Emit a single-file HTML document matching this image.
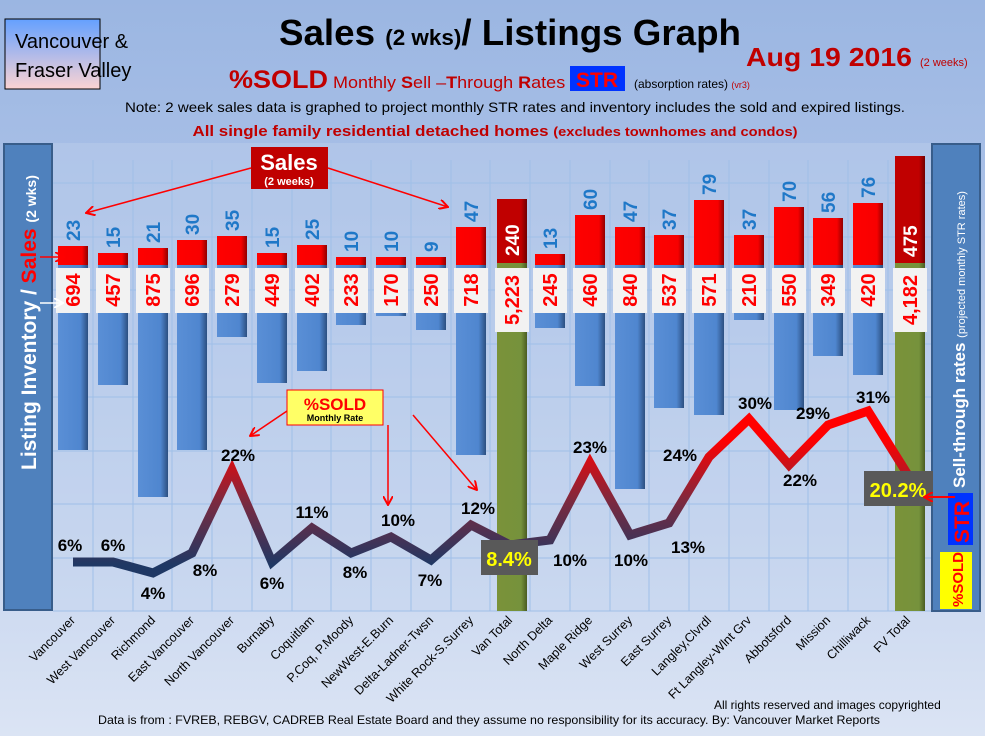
<!DOCTYPE html>
<html><head><meta charset="utf-8"><style>
html,body{margin:0;padding:0;background:#fff;}
svg{display:block;font-family:"Liberation Sans",sans-serif;}
</style></head><body>
<svg width="985" height="736" viewBox="0 0 985 736" xmlns="http://www.w3.org/2000/svg">
<defs>
<linearGradient id="bg" x1="0" y1="0" x2="0" y2="1">
<stop offset="0" stop-color="#9bb6e2"/><stop offset="0.45" stop-color="#b3c7ea"/><stop offset="1" stop-color="#dbe4f4"/></linearGradient>
<linearGradient id="lg" x1="0" y1="0" x2="0" y2="1">
<stop offset="0" stop-color="#64a0ff"/><stop offset="1" stop-color="#fbd3d3"/></linearGradient>
<linearGradient id="blue" x1="0" y1="0" x2="1" y2="0">
<stop offset="0" stop-color="#5a8fd6"/><stop offset="0.75" stop-color="#4f86cf"/><stop offset="1" stop-color="#2c4f80"/></linearGradient>
<linearGradient id="red" x1="0" y1="0" x2="1" y2="0">
<stop offset="0" stop-color="#ff0000"/><stop offset="0.8" stop-color="#f80000"/><stop offset="1" stop-color="#900000"/></linearGradient>
<linearGradient id="dred" x1="0" y1="0" x2="1" y2="0">
<stop offset="0" stop-color="#c00000"/><stop offset="0.8" stop-color="#c00000"/><stop offset="1" stop-color="#700000"/></linearGradient>
<linearGradient id="grn" x1="0" y1="0" x2="1" y2="0">
<stop offset="0" stop-color="#7a9239"/><stop offset="0.8" stop-color="#76923c"/><stop offset="1" stop-color="#4a5c22"/></linearGradient>
<linearGradient id="ln" gradientUnits="userSpaceOnUse" x1="0" y1="440" x2="0" y2="565">
<stop offset="0" stop-color="#ff0000"/><stop offset="0.5" stop-color="#7a2a40"/><stop offset="1" stop-color="#1f3864"/></linearGradient>
<marker id="ar" markerWidth="10" markerHeight="10" refX="9" refY="5" orient="auto" markerUnits="userSpaceOnUse"><path d="M0,0 L9,5 L0,10" fill="none" stroke="#ff0000" stroke-width="2"/></marker>
<marker id="arw" markerWidth="10" markerHeight="10" refX="9" refY="5" orient="auto" markerUnits="userSpaceOnUse"><path d="M0,0 L9,5 L0,10" fill="none" stroke="#fff" stroke-width="2"/></marker>
</defs>
<rect width="985" height="736" fill="url(#bg)"/>
<rect x="53" y="143" width="880" height="468" fill="#c4d3ee" opacity="0.35"/>
<g stroke="#9fbfe8" stroke-width="1">
<line x1="53" y1="183" x2="933" y2="183"/><line x1="53" y1="237" x2="933" y2="237"/><line x1="53" y1="290" x2="933" y2="290"/><line x1="53" y1="344" x2="933" y2="344"/><line x1="53" y1="397" x2="933" y2="397"/><line x1="53" y1="451" x2="933" y2="451"/><line x1="53" y1="504" x2="933" y2="504"/><line x1="53" y1="558" x2="933" y2="558"/><line x1="53" y1="611" x2="933" y2="611"/>
<line x1="93" y1="160" x2="93" y2="611"/><line x1="133" y1="160" x2="133" y2="611"/><line x1="172" y1="160" x2="172" y2="611"/><line x1="212" y1="160" x2="212" y2="611"/><line x1="252" y1="160" x2="252" y2="611"/><line x1="292" y1="160" x2="292" y2="611"/><line x1="331" y1="160" x2="331" y2="611"/><line x1="371" y1="160" x2="371" y2="611"/><line x1="411" y1="160" x2="411" y2="611"/><line x1="451" y1="160" x2="451" y2="611"/><line x1="490" y1="160" x2="490" y2="611"/><line x1="530" y1="160" x2="530" y2="611"/><line x1="570" y1="160" x2="570" y2="611"/><line x1="610" y1="160" x2="610" y2="611"/><line x1="649" y1="160" x2="649" y2="611"/><line x1="689" y1="160" x2="689" y2="611"/><line x1="729" y1="160" x2="729" y2="611"/><line x1="769" y1="160" x2="769" y2="611"/><line x1="808" y1="160" x2="808" y2="611"/><line x1="848" y1="160" x2="848" y2="611"/><line x1="888" y1="160" x2="888" y2="611"/>
</g>
<rect x="5" y="19" width="95" height="70" fill="url(#lg)" stroke="#000" stroke-width="1"/>
<text x="15" y="48" font-size="20" fill="#000">Vancouver &amp;</text>
<text x="15" y="77" font-size="20" fill="#000">Fraser Valley</text>
<text x="510" y="45" text-anchor="middle" font-size="36" font-weight="bold" fill="#000" textLength="462" lengthAdjust="spacingAndGlyphs">Sales <tspan font-size="22">(2 wks)</tspan>/ Listings Graph</text>
<text x="746" y="66" font-size="26" font-weight="bold" fill="#c00000" textLength="166" lengthAdjust="spacingAndGlyphs">Aug 19 2016</text>
<text x="920" y="66" font-size="11" fill="#c00000">(2 weeks)</text>
<g transform="translate(229,88) scale(1.08,1)"><text x="0" y="0" font-size="25" font-weight="bold" fill="#c00000">%SOLD</text></g>
<g transform="translate(333,88) scale(1.06,1)"><text x="0" y="0" font-size="17" fill="#c00000">Monthly <tspan font-weight="bold">S</tspan>ell –<tspan font-weight="bold">T</tspan>hrough <tspan font-weight="bold">R</tspan>ates</text></g>
<rect x="570" y="66" width="55" height="25" fill="#0033ff"/>
<text x="597" y="87" text-anchor="middle" font-size="21" font-weight="bold" fill="#ff0000">STR</text>
<text x="634" y="88" font-size="12" fill="#000">(absorption rates) <tspan fill="#c00000" font-size="9">(vr3)</tspan></text>
<text x="515" y="112" text-anchor="middle" font-size="14" fill="#000" textLength="780" lengthAdjust="spacingAndGlyphs">Note: 2 week sales data is graphed to project monthly STR rates and inventory includes the sold and expired listings.</text>
<text x="495" y="136" text-anchor="middle" font-size="15" font-weight="bold" fill="#c00000" textLength="605" lengthAdjust="spacingAndGlyphs">All single family residential detached homes <tspan font-size="13">(excludes townhomes and condos)</tspan></text>
<rect x="4" y="144" width="48" height="466" fill="#4f81bd" stroke="#385d8a" stroke-width="2"/>
<text transform="translate(36,470) rotate(-90)" font-size="21" font-weight="bold" fill="#fff">Listing Inventory / <tspan fill="#ff0000">Sales</tspan> <tspan font-size="14">(2  wks)</tspan></text>
<rect x="932" y="144" width="48" height="467" fill="#4f81bd" stroke="#385d8a" stroke-width="2"/>
<text transform="translate(965,488) rotate(-90)" font-size="17" font-weight="bold" fill="#fff">Sell-through rates <tspan font-size="11" font-weight="normal">(projected monthly STR rates)</tspan></text>
<rect x="948" y="493" width="25" height="52" fill="#0033ff"/>
<text transform="translate(969,543) rotate(-90)" font-size="21" font-weight="bold" fill="#ff0000">STR</text>
<rect x="940" y="552" width="32" height="57" fill="#ffff00"/>
<text transform="translate(963,607) rotate(-90)" font-size="15" font-weight="bold" fill="#ff0000">%SOLD</text>
<g>
<rect x="58" y="264" width="30" height="186" fill="url(#blue)"/><rect x="58" y="246" width="30" height="19" fill="url(#red)"/>
<rect x="98" y="264" width="30" height="121" fill="url(#blue)"/><rect x="98" y="253" width="30" height="12" fill="url(#red)"/>
<rect x="138" y="264" width="30" height="233" fill="url(#blue)"/><rect x="138" y="248" width="30" height="17" fill="url(#red)"/>
<rect x="177" y="264" width="30" height="186" fill="url(#blue)"/><rect x="177" y="240" width="30" height="25" fill="url(#red)"/>
<rect x="217" y="264" width="30" height="73" fill="url(#blue)"/><rect x="217" y="236" width="30" height="29" fill="url(#red)"/>
<rect x="257" y="264" width="30" height="119" fill="url(#blue)"/><rect x="257" y="253" width="30" height="12" fill="url(#red)"/>
<rect x="297" y="264" width="30" height="107" fill="url(#blue)"/><rect x="297" y="245" width="30" height="20" fill="url(#red)"/>
<rect x="336" y="264" width="30" height="61" fill="url(#blue)"/><rect x="336" y="257" width="30" height="8" fill="url(#red)"/>
<rect x="376" y="264" width="30" height="52" fill="url(#blue)"/><rect x="376" y="257" width="30" height="8" fill="url(#red)"/>
<rect x="416" y="264" width="30" height="66" fill="url(#blue)"/><rect x="416" y="257" width="30" height="8" fill="url(#red)"/>
<rect x="456" y="264" width="30" height="191" fill="url(#blue)"/><rect x="456" y="227" width="30" height="38" fill="url(#red)"/>
<rect x="497" y="262" width="30" height="349" fill="url(#grn)"/><rect x="497" y="199" width="30" height="64" fill="url(#dred)"/>
<rect x="535" y="264" width="30" height="64" fill="url(#blue)"/><rect x="535" y="254" width="30" height="11" fill="url(#red)"/>
<rect x="575" y="264" width="30" height="122" fill="url(#blue)"/><rect x="575" y="215" width="30" height="50" fill="url(#red)"/>
<rect x="615" y="264" width="30" height="225" fill="url(#blue)"/><rect x="615" y="227" width="30" height="38" fill="url(#red)"/>
<rect x="654" y="264" width="30" height="144" fill="url(#blue)"/><rect x="654" y="235" width="30" height="30" fill="url(#red)"/>
<rect x="694" y="264" width="30" height="151" fill="url(#blue)"/><rect x="694" y="200" width="30" height="65" fill="url(#red)"/>
<rect x="734" y="264" width="30" height="56" fill="url(#blue)"/><rect x="734" y="235" width="30" height="30" fill="url(#red)"/>
<rect x="774" y="264" width="30" height="146" fill="url(#blue)"/><rect x="774" y="207" width="30" height="58" fill="url(#red)"/>
<rect x="813" y="264" width="30" height="92" fill="url(#blue)"/><rect x="813" y="218" width="30" height="47" fill="url(#red)"/>
<rect x="853" y="264" width="30" height="111" fill="url(#blue)"/><rect x="853" y="203" width="30" height="62" fill="url(#red)"/>
<rect x="895" y="262" width="30" height="349" fill="url(#grn)"/><rect x="895" y="156" width="30" height="107" fill="url(#dred)"/>
</g>
<g font-size="19" font-weight="bold" fill="#1f78c8">
<text transform="translate(80,241) rotate(-90)">23</text>
<text transform="translate(120,248) rotate(-90)">15</text>
<text transform="translate(160,243) rotate(-90)">21</text>
<text transform="translate(199,235) rotate(-90)">30</text>
<text transform="translate(239,231) rotate(-90)">35</text>
<text transform="translate(279,248) rotate(-90)">15</text>
<text transform="translate(319,240) rotate(-90)">25</text>
<text transform="translate(358,252) rotate(-90)">10</text>
<text transform="translate(398,252) rotate(-90)">10</text>
<text transform="translate(438,252) rotate(-90)">9</text>
<text transform="translate(478,222) rotate(-90)">47</text>
<text transform="translate(557,249) rotate(-90)">13</text>
<text transform="translate(597,210) rotate(-90)">60</text>
<text transform="translate(637,222) rotate(-90)">47</text>
<text transform="translate(676,230) rotate(-90)">37</text>
<text transform="translate(716,195) rotate(-90)">79</text>
<text transform="translate(756,230) rotate(-90)">37</text>
<text transform="translate(796,202) rotate(-90)">70</text>
<text transform="translate(835,213) rotate(-90)">56</text>
<text transform="translate(875,198) rotate(-90)">76</text>
</g>
<g font-size="19" font-weight="bold" fill="#fff">
<text transform="translate(519,256) rotate(-90)">240</text>
<text transform="translate(917,257) rotate(-90)">475</text>
</g>
<g fill="#f2f2f2">
<rect x="56" y="268" width="34" height="45"/><rect x="96" y="268" width="34" height="45"/><rect x="136" y="268" width="34" height="45"/><rect x="175" y="268" width="34" height="45"/><rect x="215" y="268" width="34" height="45"/><rect x="255" y="268" width="34" height="45"/><rect x="295" y="268" width="34" height="45"/><rect x="334" y="268" width="34" height="45"/><rect x="374" y="268" width="34" height="45"/><rect x="414" y="268" width="34" height="45"/><rect x="454" y="268" width="34" height="45"/>
<rect x="495" y="268" width="34" height="64"/>
<rect x="533" y="268" width="34" height="45"/><rect x="573" y="268" width="34" height="45"/><rect x="613" y="268" width="34" height="45"/><rect x="652" y="268" width="34" height="45"/><rect x="692" y="268" width="34" height="45"/><rect x="732" y="268" width="34" height="45"/><rect x="772" y="268" width="34" height="45"/><rect x="811" y="268" width="34" height="45"/><rect x="851" y="268" width="34" height="45"/>
<rect x="893" y="268" width="34" height="64"/>
</g>
<g font-size="20" font-weight="bold" fill="#ff0000" text-anchor="middle">
<text transform="translate(80,290) rotate(-90)">694</text>
<text transform="translate(120,290) rotate(-90)">457</text>
<text transform="translate(160,290) rotate(-90)">875</text>
<text transform="translate(199,290) rotate(-90)">696</text>
<text transform="translate(239,290) rotate(-90)">279</text>
<text transform="translate(279,290) rotate(-90)">449</text>
<text transform="translate(319,290) rotate(-90)">402</text>
<text transform="translate(358,290) rotate(-90)">233</text>
<text transform="translate(398,290) rotate(-90)">170</text>
<text transform="translate(438,290) rotate(-90)">250</text>
<text transform="translate(478,290) rotate(-90)">718</text>
<text transform="translate(519,300) rotate(-90)">5,223</text>
<text transform="translate(557,290) rotate(-90)">245</text>
<text transform="translate(597,290) rotate(-90)">460</text>
<text transform="translate(637,290) rotate(-90)">840</text>
<text transform="translate(676,290) rotate(-90)">537</text>
<text transform="translate(716,290) rotate(-90)">571</text>
<text transform="translate(756,290) rotate(-90)">210</text>
<text transform="translate(796,290) rotate(-90)">550</text>
<text transform="translate(835,290) rotate(-90)">349</text>
<text transform="translate(875,290) rotate(-90)">420</text>
<text transform="translate(917,300) rotate(-90)">4,182</text>
</g>
<polyline fill="none" stroke="url(#ln)" stroke-width="9" stroke-linejoin="miter" points="73,562 113,562 153,573 192,553 232,470 272,562 312,528 351,553 391,537 431,560 471,525 510,545 550,540 590,463 630,535 669,523 709,457 749,419 789,465 828,425 868,411 908,475"/>
<g font-size="17" font-weight="bold" fill="#000" text-anchor="middle">
<text x="70" y="551">6%</text><text x="113" y="551">6%</text><text x="153" y="599">4%</text><text x="205" y="576">8%</text><text x="238" y="461">22%</text><text x="272" y="589">6%</text><text x="312" y="518">11%</text><text x="355" y="578">8%</text><text x="398" y="526">10%</text><text x="430" y="586">7%</text><text x="478" y="514">12%</text><text x="570" y="566">10%</text><text x="590" y="453">23%</text><text x="631" y="566">10%</text><text x="688" y="553">13%</text><text x="680" y="461">24%</text><text x="755" y="409">30%</text><text x="800" y="486">22%</text><text x="813" y="419">29%</text><text x="873" y="403">31%</text>
</g>
<rect x="481" y="540" width="57" height="35" fill="#595959"/>
<text x="509" y="566" text-anchor="middle" font-size="20" font-weight="bold" fill="#ffff00">8.4%</text>
<rect x="864" y="471" width="69" height="35" fill="#595959"/>
<text x="898" y="497" text-anchor="middle" font-size="20" font-weight="bold" fill="#ffff00">20.2%</text>
<line x1="955" y1="497" x2="924" y2="497" stroke="#ff0000" stroke-width="2" marker-end="url(#ar)"/>
<rect x="251" y="147" width="77" height="42" fill="#c00000"/>
<text x="289" y="170" text-anchor="middle" font-size="22" font-weight="bold" fill="#fff">Sales</text>
<text x="289" y="185" text-anchor="middle" font-size="11" font-weight="bold" fill="#fff">(2 weeks)</text>
<line x1="251" y1="168" x2="86" y2="213" stroke="#ff0000" stroke-width="1.5" marker-end="url(#ar)"/>
<line x1="328" y1="168" x2="448" y2="207" stroke="#ff0000" stroke-width="1.5" marker-end="url(#ar)"/>
<line x1="40" y1="257" x2="64" y2="257" stroke="#ff0000" stroke-width="1.5" marker-end="url(#ar)"/>
<line x1="40" y1="303" x2="63" y2="303" stroke="#fff" stroke-width="1.5" marker-end="url(#arw)"/>
<rect x="287" y="390" width="96" height="35" fill="#ffff66" stroke="#ff0000" stroke-width="1"/>
<text x="335" y="410" text-anchor="middle" font-size="17" font-weight="bold" fill="#ff0000">%SOLD</text>
<text x="335" y="421" text-anchor="middle" font-size="9" font-weight="bold" fill="#000">Monthly Rate</text>
<line x1="287" y1="411" x2="250" y2="436" stroke="#ff0000" stroke-width="1.5" marker-end="url(#ar)"/>
<line x1="388" y1="425" x2="388" y2="505" stroke="#ff0000" stroke-width="1.5" marker-end="url(#ar)"/>
<line x1="413" y1="415" x2="477" y2="490" stroke="#ff0000" stroke-width="1.5" marker-end="url(#ar)"/>
<g font-size="12.5" fill="#000" text-anchor="end">
<text transform="translate(76,621) rotate(-45)">Vancouver</text>
<text transform="translate(116,621) rotate(-45)">West Vancouver</text>
<text transform="translate(156,621) rotate(-45)">Richmond</text>
<text transform="translate(195,621) rotate(-45)">East Vancouver</text>
<text transform="translate(235,621) rotate(-45)">North Vancouver</text>
<text transform="translate(275,621) rotate(-45)">Burnaby</text>
<text transform="translate(315,621) rotate(-45)">Coquitlam</text>
<text transform="translate(354,621) rotate(-45)">P.Coq, P.Moody</text>
<text transform="translate(394,621) rotate(-45)">NewWest-E.Burn</text>
<text transform="translate(434,621) rotate(-45)">Delta-Ladner-Twsn</text>
<text transform="translate(474,621) rotate(-45)">White Rock-S.Surrey</text>
<text transform="translate(513,621) rotate(-45)">Van Total</text>
<text transform="translate(553,621) rotate(-45)">North Delta</text>
<text transform="translate(593,621) rotate(-45)">Maple Ridge</text>
<text transform="translate(633,621) rotate(-45)">West Surrey</text>
<text transform="translate(672,621) rotate(-45)">East Surrey</text>
<text transform="translate(712,621) rotate(-45)">Langley,Clvrdl</text>
<text transform="translate(752,621) rotate(-45)">Ft Langley-Wlnt Grv</text>
<text transform="translate(792,621) rotate(-45)">Abbotsford</text>
<text transform="translate(831,621) rotate(-45)">Mission</text>
<text transform="translate(871,621) rotate(-45)">Chilliwack</text>
<text transform="translate(911,621) rotate(-45)">FV Total</text>
</g>
<text x="714" y="709" font-size="12" fill="#000">All rights reserved and  images copyrighted</text>
<text x="98" y="724" font-size="12" fill="#000" textLength="782" lengthAdjust="spacingAndGlyphs">Data is from : FVREB, REBGV, CADREB Real Estate Board and they assume no responsibility for its accuracy. By: Vancouver Market Reports</text>
</svg>
</body></html>
